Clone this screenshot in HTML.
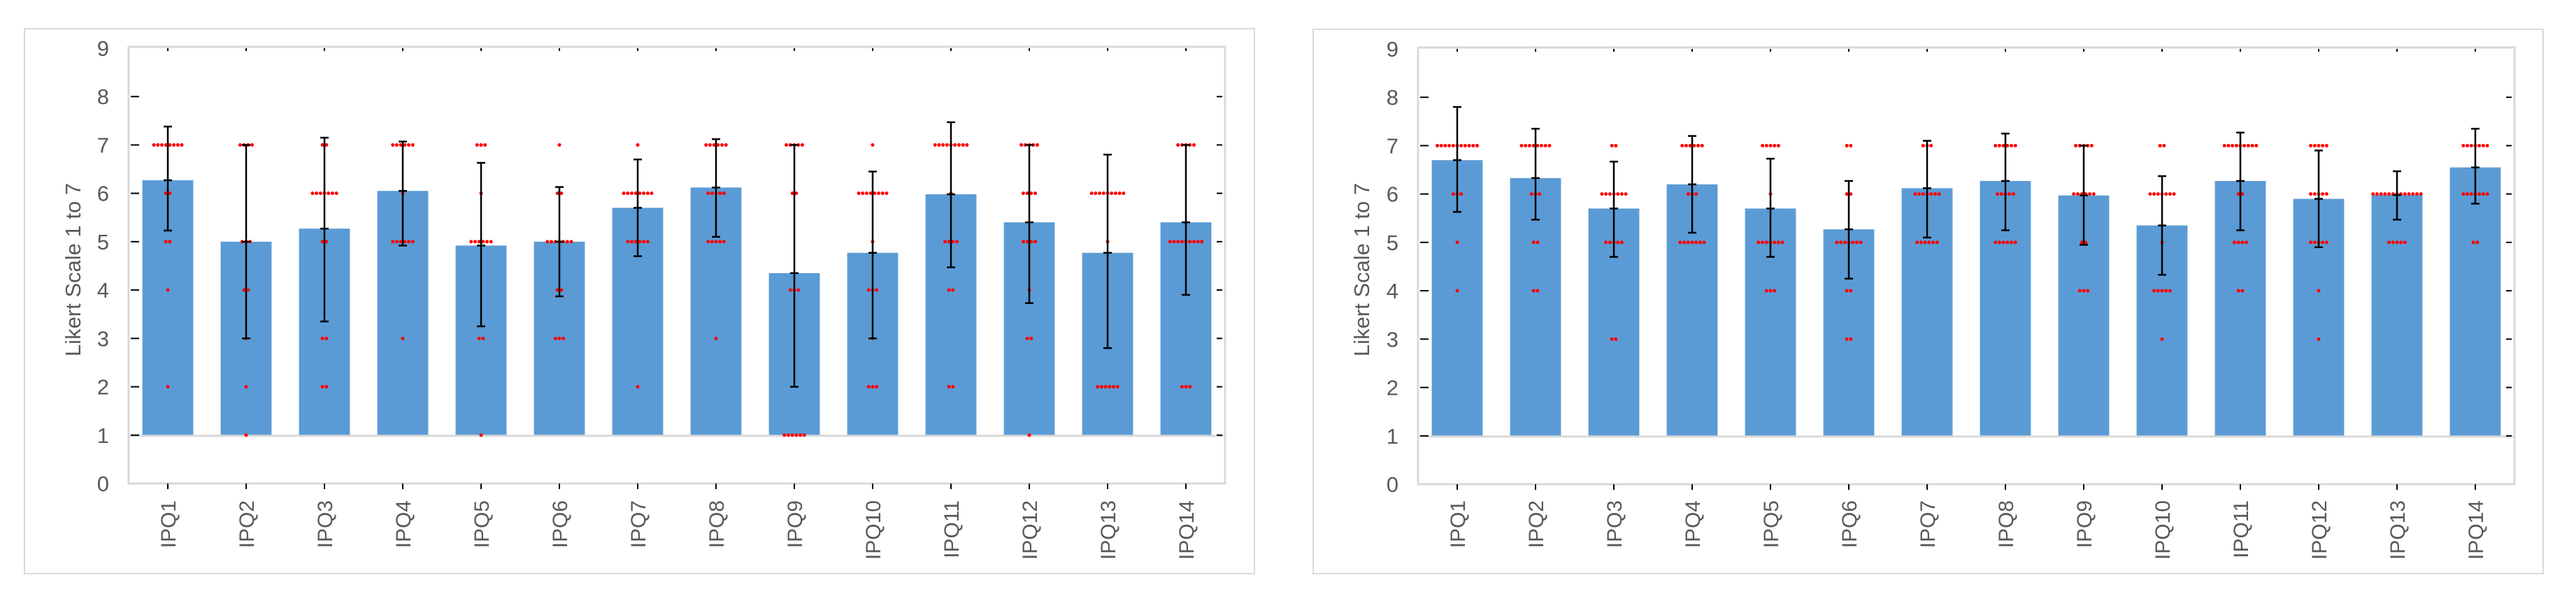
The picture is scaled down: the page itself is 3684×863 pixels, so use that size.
<!DOCTYPE html>
<html><head><meta charset="utf-8"><style>
html,body{margin:0;padding:0;background:#fff;}
svg{display:block;font-family:"Liberation Sans",sans-serif;}
</style></head><body>
<svg id="chart" width="3684" height="863" viewBox="0 0 3684 863" xmlns="http://www.w3.org/2000/svg"></svg>
<script>
const categories=["IPQ1","IPQ2","IPQ3","IPQ4","IPQ5","IPQ6","IPQ7","IPQ8","IPQ9","IPQ10","IPQ11","IPQ12","IPQ13","IPQ14"];
const yTicks=[0,1,2,3,4,5,6,7,8,9];
const leftMeans=[6.27,5.0,5.27,6.05,4.92,5.0,5.7,6.12,4.35,4.77,5.98,5.4,4.77,5.4];
const leftLow=[5.23,3.0,3.35,4.92,3.25,3.87,4.7,5.1,2.0,3.0,4.47,3.73,2.8,3.9];
const leftHigh=[7.38,7.0,7.15,7.07,6.63,6.13,6.7,7.12,7.0,6.45,7.47,7.0,6.8,7.0];
// counts per likert level [1..7]
const leftCounts=[
[0,1,0,1,2,2,8],[1,1,1,2,3,0,4],[0,2,2,0,2,7,2],[0,0,1,0,6,1,6],[1,0,2,0,6,1,3],
[0,0,3,2,7,2,1],[0,1,0,0,6,8,1],[0,0,1,0,5,5,6],[6,0,0,3,0,2,5],[0,3,1,3,1,8,1],
[0,2,0,2,4,1,9],[1,0,2,1,4,4,5],[0,6,0,0,1,9,0],[0,3,0,0,9,0,5]];
const rightMeans=[6.7,6.33,5.7,6.2,5.7,5.27,6.12,6.27,5.97,5.35,6.27,5.9,5.98,6.55];
const rightLow=[5.63,5.47,4.7,5.2,4.7,4.25,5.1,5.25,4.95,4.33,5.25,4.9,5.47,5.8];
const rightHigh=[7.8,7.35,6.67,7.2,6.73,6.27,7.1,7.25,7.0,6.37,7.27,6.9,6.47,7.35];
const rightCounts=[
[0,0,0,1,1,3,11],[0,0,0,2,2,3,8],[0,0,2,0,5,7,2],[0,0,0,0,7,3,6],[0,0,0,3,7,1,5],
[0,0,2,2,7,2,2],[0,0,0,0,6,7,3],[0,0,0,0,6,5,6],[0,0,0,3,2,6,5],[0,0,1,5,1,7,2],
[0,0,0,2,4,2,9],[0,0,1,1,5,5,5],[0,0,0,0,5,13,0],[0,0,0,0,2,7,7]];

const NS="http://www.w3.org/2000/svg";
const svg=document.getElementById('chart');
function mk(tag,attrs,parent){const e=document.createElementNS(NS,tag);for(const k in attrs)e.setAttribute(k,attrs[k]);(parent||svg).appendChild(e);return e;}

function drawChart(cfg,means,low,high,counts,prefix){
  const g=mk('g',{});
  
  
  const L=cfg.plotLeft,T=cfg.plotTop,B=cfg.plotBottom,R=L+cfg.band*categories.length;
  const y=v=>B-(B-T)*v/9;
  const x=i=>L+cfg.band*(i+0.5);
  const outer=mk('rect',{x:cfg.ox,y:cfg.oy,width:cfg.ow,height:cfg.oh,fill:'#fff',stroke:'#d9d9d9','stroke-width':2},g);
  
  
  const plot=mk('rect',{x:L,y:T-2,width:R-L,height:B-T+2,fill:'#fff',stroke:'#d9d9d9','stroke-width':3},g);
  
  
  means.forEach((m,i)=>{
    const bw=cfg.band*0.65;
    const r=mk('rect',{x:x(i)-bw/2,y:y(m),width:bw,height:y(1)-y(m),fill:'#5b9bd5'},g);
    
    
  });
  const bl=mk('line',{x1:L,x2:R,y1:y(1)+1,y2:y(1)+1,stroke:'#d9d9d9','stroke-width':3},g);
  
  
  yTicks.forEach(t=>{
    if(t>0&&t<9){mk('line',{x1:L+3,x2:L+15,y1:y(t),y2:y(t),stroke:'#000','stroke-width':2},g);
      mk('line',{x1:R-12,x2:R-4,y1:y(t),y2:y(t),stroke:'#000','stroke-width':2},g);}
    const tl=mk('text',{x:L-28,y:y(t)+11,'text-anchor':'end','font-size':31,fill:'#595959'},g);
    tl.textContent=t;
    
    
  });
  counts.forEach((c,i)=>{
    c.forEach((n,lv)=>{
      for(let k=0;k<n;k++){
        const d=mk('circle',{cx:x(i)+(k-(n-1)/2)*5.7,cy:y(lv+1),r:2.5,fill:'#ff0000'},g);
        
        
      }
    });
  });
  means.forEach((m,i)=>{
    const eg=mk('g',{stroke:'#000','stroke-width':2.5},g);
    
    
    mk('line',{x1:x(i),x2:x(i),y1:y(low[i]),y2:y(high[i])},eg);
    mk('line',{x1:x(i)-6,x2:x(i)+6,y1:y(low[i]),y2:y(low[i])},eg);
    mk('line',{x1:x(i)-6,x2:x(i)+6,y1:y(high[i]),y2:y(high[i])},eg);
    mk('line',{x1:x(i)-6,x2:x(i)+6,y1:y(m),y2:y(m)},eg);
  });
  categories.forEach((c,i)=>{
    mk('line',{x1:x(i),x2:x(i),y1:B,y2:B+8,stroke:'#000','stroke-width':2},g);
    mk('line',{x1:x(i),x2:x(i),y1:T,y2:T+4,stroke:'#000','stroke-width':2},g);
    const t=mk('text',{x:0,y:0,'text-anchor':'end','font-size':30,fill:'#595959',transform:`translate(${x(i)+11},716) rotate(-90)`},g);
    t.textContent=c;
    
    
  });
  const at=mk('text',{x:0,y:0,'text-anchor':'middle','font-size':31,fill:'#595959',transform:`translate(${cfg.titleX},386) rotate(-90)`},g);
  at.textContent='Likert Scale 1 to 7';
  
  
}
drawChart({ox:35,oy:41,ow:1759,oh:780,plotLeft:184,plotTop:69,plotBottom:692,band:112,titleX:115},leftMeans,leftLow,leftHigh,leftCounts,'left');
drawChart({ox:1878,oy:42,ow:1759,oh:779,plotLeft:2028,plotTop:70,plotBottom:693,band:112,titleX:1958},rightMeans,rightLow,rightHigh,rightCounts,'right');
</script>
</body></html>
